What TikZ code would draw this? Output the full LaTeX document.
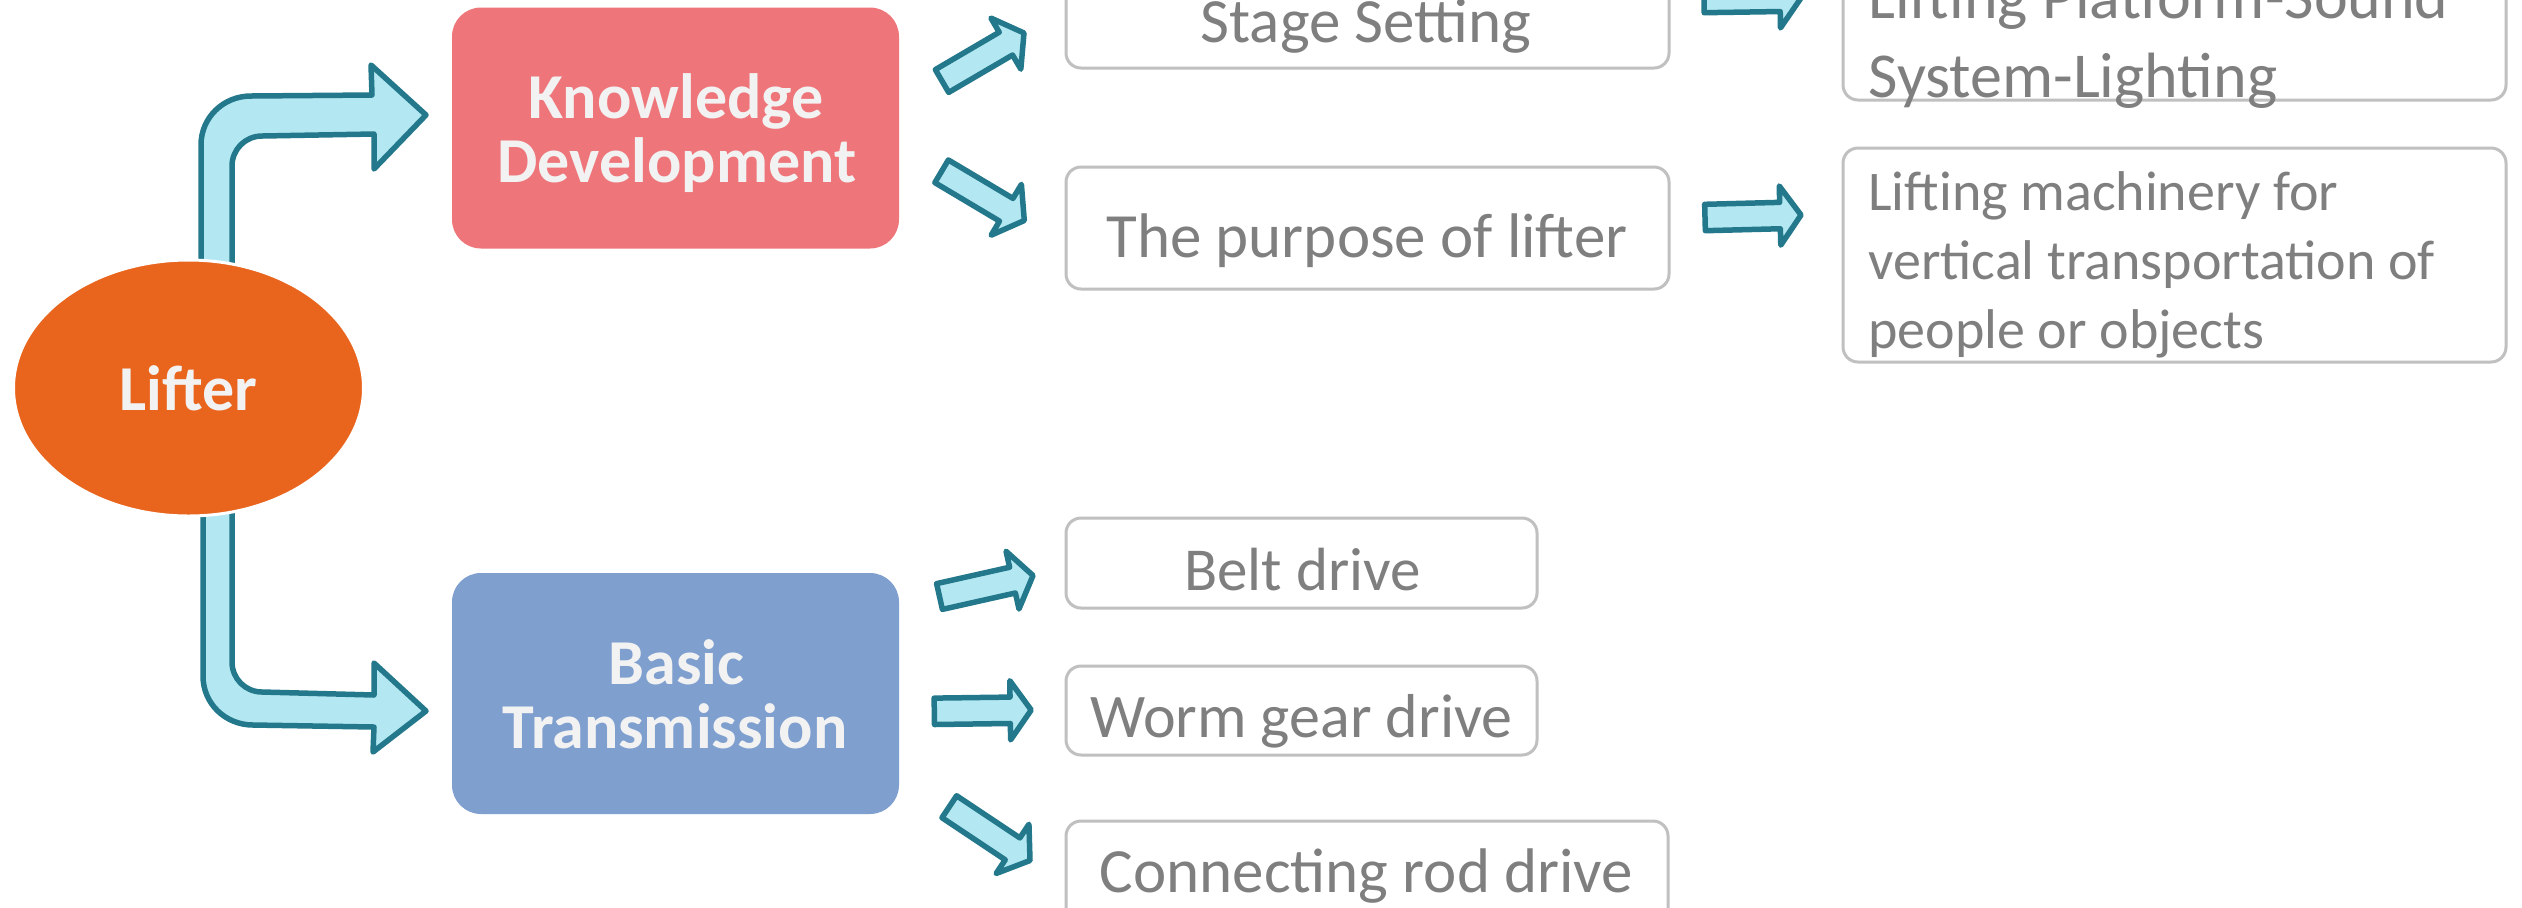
\documentclass[tikz,border=0pt]{standalone}
\usepackage{fontspec}
\setmainfont{Carlito}
\usetikzlibrary{calc,shapes.geometric}
\definecolor{lifterorange}{HTML}{E9651D}
\definecolor{knowpink}{HTML}{EE767A}
\definecolor{basicblue}{HTML}{7F9FCF}
\definecolor{arrfill}{HTML}{B3E8F2}
\definecolor{arrline}{HTML}{23788B}
\definecolor{boxline}{HTML}{C0C0C0}
\definecolor{greytext}{HTML}{7F7F7F}
\definecolor{whitetext}{HTML}{F2F2F2}
\tikzset{
  barrow/.style={fill=arrfill, draw=arrline, line width=2.75pt, line join=round},
  gbox/.style={draw=boxline, line width=1.5pt, rounded corners=7.5pt, inner sep=0pt, outer sep=0pt},
  cbox/.style={rounded corners=14.5pt, inner sep=0pt, outer sep=0pt, minimum width=223.5pt, minimum height=120.5pt},
  gtext/.style={text=greytext, font=\fontsize{31.5}{38}\selectfont, inner sep=0pt},
  rtext/.style={text=greytext, font=\fontsize{28}{34}\selectfont, inner sep=0pt, anchor=base west},
  wtext/.style={text=whitetext, font=\bfseries\fontsize{32}{38}\selectfont, inner sep=0pt, anchor=base},
}
\newcommand\blockarrow[2]{%
  \coordinate (ba-a) at (#1);
  \coordinate (ba-b) at (#2);
  \coordinate (ba-h) at ($(ba-b)!10.5pt!(ba-a)$);
  \draw[barrow] ($(ba-a)!6.6pt!90:(ba-b)$) -- ($(ba-h)!6.6pt!90:(ba-b)$)
     -- ($(ba-h)!14.8pt!90:(ba-b)$) -- (ba-b) -- ($(ba-h)!14.8pt!-90:(ba-b)$)
     -- ($(ba-h)!6.6pt!-90:(ba-b)$) -- ($(ba-a)!6.6pt!-90:(ba-b)$) -- cycle;
}
\begin{document}
\begin{tikzpicture}[x=0.5pt,y=-0.5pt]
\useasboundingbox (0,0) rectangle (2522,907);
\clip (0,0) rectangle (2522,907);
\fill[white] (0,0) rectangle (2522,907);

% bent arrows (behind the ellipse)
\draw[barrow] (201,300) -- (201,145) .. controls (201,117.4) and (223.4,96) .. (251,96)
  -- (372,95) -- (371,65) -- (426,115) -- (374,169) -- (374,134) -- (262,136)
  .. controls (245.4,136) and (232,149.4) .. (232,166) -- (232,300) -- cycle;
\draw[barrow] (203,480) -- (203,676) .. controls (203,703.6) and (225.4,725) .. (253,725)
  -- (374,727) -- (373,752) -- (426,711) -- (374,663) -- (374,695) -- (262,692)
  .. controls (245.4,692) and (232,678.6) .. (232,662) -- (232,480) -- cycle;

% central ellipse
\node[ellipse, fill=lifterorange, draw=white, line width=1.5pt, minimum width=175pt,
      minimum height=128pt, inner sep=0pt, text=whitetext,
      font=\bfseries\fontsize{32}{38}\selectfont] (lifter) at (188.5,388) {Lifter};

% coloured boxes
\node[cbox, fill=knowpink] (know) at (675.5,128) {};
\node[wtext] (know1) at (676,118.6) {Knowledge};
\node[wtext] (know2) at (677,182) {Development};
\node[cbox, fill=basicblue] (basic) at (675.5,693.5) {};
\node[wtext] (basic1) at (676.5,684) {Basic};
\node[wtext] (basic2) at (675,748) {Transmission};

% grey boxes
\node[gbox, minimum width=301.5pt, minimum height=61.5pt] (stage) at (1367.5,6.5) {};
\node[gtext, anchor=base] (stagetxt) at (1366,42) {Stage Setting};
\node[gbox, minimum width=301.5pt, minimum height=61pt] (purpose) at (1367.5,228) {};
\node[gtext, anchor=base] (purposetxt) at (1367,257) {The purpose of lifter};
\node[gbox, minimum width=331.5pt, minimum height=80pt] (platform) at (2174.5,20) {};
\node[gtext, anchor=base west, font=\fontsize{32}{38}\selectfont] (platform1) at (1868,18) {Lifting Platform-Sound};
\node[gtext, anchor=base west, font=\fontsize{32}{38}\selectfont] (platform2) at (1868,97) {System-Lighting};
\node[gbox, minimum width=331.5pt, minimum height=107pt] (machinery) at (2174.5,255) {};
\node[rtext] (mach1) at (1868,210) {Lifting machinery for};
\node[rtext] (mach2) at (1868,279) {vertical transportation of};
\node[rtext] (mach3) at (1868,348) {people or objects};
\node[gbox, minimum width=235.5pt, minimum height=45pt] (belt) at (1301.5,563) {};
\node[gtext, anchor=base, font=\fontsize{30.5}{36}\selectfont] (belttxt) at (1302.5,590) {Belt drive};
\node[gbox, minimum width=235.5pt, minimum height=44.5pt] (worm) at (1301.5,710.5) {};
\node[gtext, anchor=base, font=\fontsize{31}{36}\selectfont] (wormtxt) at (1301.5,737) {Worm gear drive};
\node[gbox, minimum width=301pt, minimum height=69.5pt] (rod) at (1367,890.5) {};
\node[gtext, anchor=base, font=\fontsize{31.5}{36}\selectfont] (rodtxt) at (1366.5,892) {Connecting rod drive};

% small block arrows
\coordinate (a1s) at (942,81);     \coordinate (a1e) at (1024,33);
\coordinate (a2s) at (941.6,171.3); \coordinate (a2e) at (1024.3,220.5);
\coordinate (a3s) at (1704,-0.5);  \coordinate (a3e) at (1801,-2);
\coordinate (a4s) at (1705,217.5); \coordinate (a4e) at (1801,215);
\coordinate (a5s) at (939.5,596.5); \coordinate (a5e) at (1033,575.5);
\coordinate (a6s) at (934.3,711.3); \coordinate (a6e) at (1031.2,710);
\coordinate (a7s) at (949.3,806.7); \coordinate (a7e) at (1030,860.5);
\blockarrow{a1s}{a1e}
\blockarrow{a2s}{a2e}
\blockarrow{a3s}{a3e}
\blockarrow{a4s}{a4e}
\blockarrow{a5s}{a5e}
\blockarrow{a6s}{a6e}
\blockarrow{a7s}{a7e}
\end{tikzpicture}
\end{document}
